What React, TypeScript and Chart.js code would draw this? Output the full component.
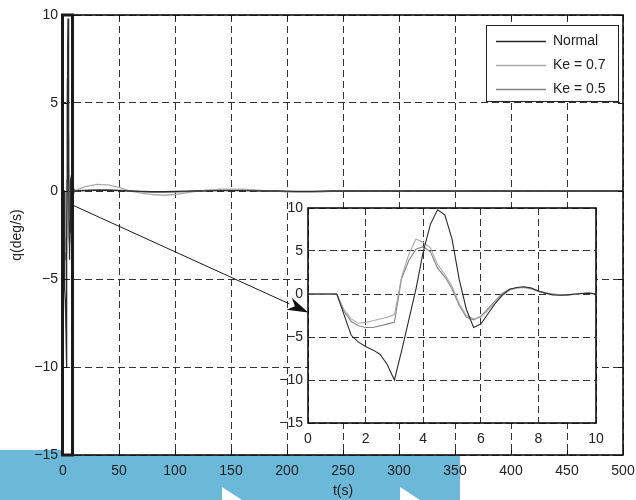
import React, { useEffect, useRef } from "react";
import { Chart, registerables } from "chart.js";

Chart.register(...registerables);

const FONT = "'Liberation Sans', Arial, Helvetica, sans-serif";
Chart.defaults.font.family = FONT;
Chart.defaults.font.size = 14;
Chart.defaults.color = "#222";

// ---------- data ----------
const seriesLabels = ["Normal", "Ke = 0.7", "Ke = 0.5"];
const seriesColors = ["#2b2b2b", "#ababab", "#858585"];

// first 10 s (shown in the inset, and compressed at the start of the main plot)
const tZoom = [0, 0.25, 0.5, 0.75, 1, 1.25, 1.5, 1.75, 2, 2.25, 2.5, 2.75, 3, 3.25, 3.5, 3.75, 4, 4.25, 4.5, 4.75, 5,
  5.25, 5.5, 5.75, 6, 6.25, 6.5, 6.75, 7, 7.25, 7.5, 7.75, 8, 8.25, 8.5, 8.75, 9, 9.25, 9.5, 9.75, 10];
const normalZoom = [0, 0, 0, 0, 0, -2.4, -4.8, -5.6, -6.1, -6.5, -7.0, -8.2, -10.0, -6.6, -3.0, 0.6, 4.9, 8.1, 9.8, 9.2, 6.4,
  1.7, -1.8, -3.9, -3.5, -2.3, -1.1, -0.1, 0.55, 0.75, 0.85, 0.7, 0.35, 0.1, -0.1, -0.15, -0.1, 0, 0.05, 0.1, 0];
const ke07Zoom = [0, 0, 0, 0, 0, -1.8, -2.9, -3.4, -3.3, -3.1, -2.9, -2.7, -2.4, 2.0, 4.6, 6.4, 6.0, 5.4, 3.4, 2.3, 0.9,
  -1.1, -2.5, -2.9, -2.7, -1.9, -1.0, -0.2, 0.45, 0.7, 0.8, 0.7, 0.35, 0.1, 0, -0.05, -0.1, -0.05, 0.05, 0.1, 0];
const ke05Zoom = [0, 0, 0, 0, 0, -2.0, -3.2, -3.7, -3.9, -3.9, -3.7, -3.5, -3.3, 1.8, 3.9, 5.2, 5.5, 4.9, 3.0, 2.0, 0.6,
  -1.3, -2.7, -3.0, -2.6, -1.7, -0.8, 0.1, 0.55, 0.7, 0.75, 0.6, 0.3, 0.1, 0, -0.1, -0.1, -0.05, 0.05, 0.1, 0];

// remainder of the run (main plot only)
const tTail = [20, 30, 40, 50, 60, 70, 80, 90, 100, 110, 120, 130, 140, 150, 160, 170, 180, 190, 200, 210, 220, 230, 240, 250,
  300, 350, 400, 450, 500];
const normalTail = [0.02, 0.03, 0.03, 0.02, 0, -0.02, -0.03, -0.03, -0.02, -0.01, 0, 0.01, 0.02, 0.02, 0.02, 0.01, 0, 0, -0.01,
  -0.02, -0.02, -0.01, 0, 0, 0, 0, 0, 0, 0];
const ke07Tail = [0.25, 0.38, 0.35, 0.2, 0, -0.12, -0.2, -0.24, -0.2, -0.1, 0, 0.05, 0.1, 0.11, 0.1, 0.06, 0.02, 0, -0.05,
  -0.08, -0.08, -0.05, -0.02, 0, 0.02, -0.02, 0.01, -0.01, 0];
const ke05Tail = [0.05, 0.08, 0.08, 0.05, 0, -0.05, -0.08, -0.08, -0.06, -0.03, 0, 0.03, 0.05, 0.05, 0.05, 0.03, 0.01, 0, -0.03,
  -0.05, -0.05, -0.03, -0.01, 0, 0.01, -0.01, 0.01, 0, 0];

const mainXTicks = [0, 50, 100, 150, 200, 250, 300, 350, 400, 450, 500];
const mainYTicks = [-15, -10, -5, 0, 5, 10];
const insetXTicks = [0, 2, 4, 6, 8, 10];
const insetYTicks = [-15, -10, -5, 0, 5, 10];

// annotation anchors (data units of the main plot)
const zoomBoxEnd = 8.5;
const arrowFrom = { x: 8.5, y: -0.8 };
const arrowTo = { x: 219, y: -6.9 };

// ---------- helpers ----------
const toMinus = (v: number | string) => String(v).replace("-", "\u2212");
const pts = (ts: number[], vs: number[]) => ts.map((t, i) => ({ x: t, y: vs[i] }));

const zoomSeries = [normalZoom, ke07Zoom, ke05Zoom];
const tailSeries = [normalTail, ke07Tail, ke05Tail];

function axis(min: number, max: number, ticks: number[], size: number, horizontal: boolean, pad: number) {
  return {
    type: "linear" as const,
    min,
    max,
    afterBuildTicks: (s: any) => {
      s.ticks = ticks.map((v) => ({ value: v }));
    },
    afterFit: (s: any) => {
      if (horizontal) {
        s.height = size;
        s.paddingLeft = 0;
        s.paddingRight = 0;
      } else {
        s.width = size;
        s.paddingTop = 0;
        s.paddingBottom = 0;
      }
    },
    grid: { color: "#333333", lineWidth: 1, drawTicks: false },
    border: { display: false, dash: [7, 4] },
    ticks: {
      padding: pad,
      color: "#222",
      font: { size: 14, family: FONT },
      callback: (v: any) => toMinus(v),
      autoSkip: false,
      maxRotation: 0,
    },
  };
}

const whiteArea = {
  id: "whiteArea",
  beforeDraw(chart: any) {
    const { ctx, chartArea: a } = chart;
    ctx.save();
    ctx.fillStyle = "#ffffff";
    ctx.fillRect(a.left, a.top, a.right - a.left, a.bottom - a.top);
    ctx.restore();
  },
};

const frame = {
  id: "frame",
  afterDatasetsDraw(chart: any, _args: any, opts: any) {
    const { ctx, chartArea: a, scales } = chart;
    ctx.save();
    if (opts.inwardTicks) {
      ctx.strokeStyle = "#111";
      ctx.lineWidth = 1;
      ctx.beginPath();
      scales.x.ticks.forEach((t: any) => {
        const px = Math.round(scales.x.getPixelForValue(t.value)) + 0.5;
        ctx.moveTo(px, a.bottom);
        ctx.lineTo(px, a.bottom - 5);
        ctx.moveTo(px, a.top);
        ctx.lineTo(px, a.top + 5);
      });
      scales.y.ticks.forEach((t: any) => {
        const py = Math.round(scales.y.getPixelForValue(t.value)) + 0.5;
        ctx.moveTo(a.left, py);
        ctx.lineTo(a.left + 5, py);
        ctx.moveTo(a.right, py);
        ctx.lineTo(a.right - 5, py);
      });
      ctx.stroke();
    }
    ctx.strokeStyle = "#111";
    ctx.lineWidth = 1.6;
    ctx.strokeRect(a.left, a.top, a.right - a.left, a.bottom - a.top);
    ctx.restore();
  },
};

const mainDecor = {
  id: "mainDecor",
  afterDraw(chart: any) {
    const { ctx, chartArea: a, scales } = chart;
    const xs = scales.x;
    const ys = scales.y;
    ctx.save();
    // zoom window rectangle
    ctx.strokeStyle = "#1a1a1a";
    ctx.lineWidth = 3;
    const xr = xs.getPixelForValue(zoomBoxEnd);
    ctx.strokeRect(a.left - 0.5, a.top, xr - a.left + 0.5, a.bottom - a.top);

    // arrow
    const x1 = xs.getPixelForValue(arrowFrom.x);
    const y1 = ys.getPixelForValue(arrowFrom.y);
    const x2 = xs.getPixelForValue(arrowTo.x);
    const y2 = ys.getPixelForValue(arrowTo.y);
    const ang = Math.atan2(y2 - y1, x2 - x1);
    const L = 21;
    const W = 6.5;
    const bx = x2 - L * Math.cos(ang);
    const by = y2 - L * Math.sin(ang);
    ctx.strokeStyle = "#1a1a1a";
    ctx.lineWidth = 1;
    ctx.beginPath();
    ctx.moveTo(x1, y1);
    ctx.lineTo(bx, by);
    ctx.stroke();
    ctx.fillStyle = "#111";
    ctx.beginPath();
    ctx.moveTo(x2, y2);
    ctx.lineTo(bx + W * Math.sin(ang), by - W * Math.cos(ang));
    ctx.lineTo(x2 - 0.7 * L * Math.cos(ang), y2 - 0.7 * L * Math.sin(ang));
    ctx.lineTo(bx - W * Math.sin(ang), by + W * Math.cos(ang));
    ctx.closePath();
    ctx.fill();

    // legend
    const bw = 132;
    const bh = 76;
    const bl = a.right - 137;
    const bt = a.top + 10;
    ctx.fillStyle = "#fff";
    ctx.fillRect(bl, bt, bw, bh);
    ctx.strokeStyle = "#222";
    ctx.lineWidth = 1;
    ctx.strokeRect(bl + 0.5, bt + 0.5, bw, bh);
    ctx.font = `14px ${FONT}`;
    ctx.textBaseline = "middle";
    ctx.textAlign = "left";
    chart.data.datasets.forEach((ds: any, i: number) => {
      const yy = bt + 16 + i * 24;
      ctx.strokeStyle = ds.borderColor;
      ctx.lineWidth = 1.3;
      ctx.beginPath();
      ctx.moveTo(bl + 10, yy + 0.5);
      ctx.lineTo(bl + 60, yy + 0.5);
      ctx.stroke();
      ctx.fillStyle = "#222";
      ctx.fillText(ds.label, bl + 67, yy);
    });
    ctx.restore();
  },
};

function makeDatasets(withTail: boolean) {
  return seriesLabels.map((label, i) => ({
    label,
    data: withTail ? [...pts(tZoom, zoomSeries[i]), ...pts(tTail, tailSeries[i])] : pts(tZoom, zoomSeries[i]),
    borderColor: seriesColors[i],
    backgroundColor: seriesColors[i],
    borderWidth: withTail ? 1.3 : 1.1,
    pointRadius: 0,
    fill: false,
    tension: 0,
  }));
}

export default function App() {
  const mainRef = useRef<HTMLCanvasElement | null>(null);
  const insetRef = useRef<HTMLCanvasElement | null>(null);

  useEffect(() => {
    if (!mainRef.current || !insetRef.current) return;
    const main = new Chart(mainRef.current, {
      type: "line",
      data: { datasets: makeDatasets(true) as any },
      options: {
        animation: false,
        responsive: false,
        devicePixelRatio: 1,
        layout: { padding: { left: 0, right: 13, top: 15, bottom: 0 } },
        plugins: {
          legend: { display: false },
          tooltip: { enabled: false },
          frame: { inwardTicks: true },
        } as any,
        scales: {
          x: {
            ...axis(0, 500, mainXTicks, 45, true, 8),
            title: { display: true, text: "t(s)", color: "#222", font: { size: 14, family: FONT }, padding: { top: 0, bottom: 0 } },
          },
          y: {
            ...axis(-15, 10, mainYTicks, 63, false, 5),
            title: { display: true, text: "q(deg/s)", color: "#222", font: { size: 14, family: FONT }, padding: { top: 9, bottom: 0 } },
          },
        } as any,
      },
      plugins: [whiteArea, frame, mainDecor],
    });

    const inset = new Chart(insetRef.current, {
      type: "line",
      data: { datasets: makeDatasets(false) as any },
      options: {
        animation: false,
        responsive: false,
        devicePixelRatio: 1,
        layout: { padding: { left: 0, right: 14, top: 13, bottom: 0 } },
        plugins: {
          legend: { display: false },
          tooltip: { enabled: false },
          frame: { inwardTicks: false },
        } as any,
        scales: {
          x: axis(0, 10, insetXTicks, 27, true, 8),
          y: axis(-15, 10, insetYTicks, 38, false, 5),
        } as any,
      },
      plugins: [whiteArea, frame],
    });

    return () => {
      main.destroy();
      inset.destroy();
    };
  }, []);

  const tri = (left: number) => (
    <div
      style={{
        position: "absolute",
        left,
        top: 37,
        width: 20,
        height: 13,
        background: "#ffffff",
        clipPath: "polygon(0 0, 100% 100%, 0 100%)",
      }}
    />
  );

  return (
    <div style={{ position: "fixed", left: 0, top: 0, width: 636, height: 500, background: "#fff", overflow: "hidden" }}>
      <div style={{ position: "absolute", left: 0, top: 450, width: 460, height: 50, background: "#6cb8d9" }}>
        {tri(222)}
        {tri(400)}
      </div>
      <canvas ref={mainRef} width={636} height={500} style={{ position: "absolute", left: 0, top: 0, width: 636, height: 500 }} />
      <canvas ref={insetRef} width={340} height={255} style={{ position: "absolute", left: 270, top: 195, width: 340, height: 255 }} />
    </div>
  );
}
